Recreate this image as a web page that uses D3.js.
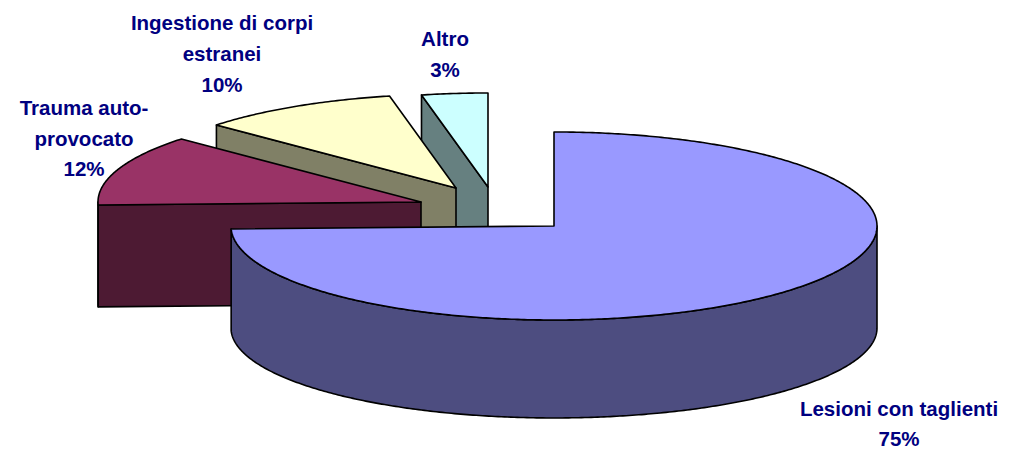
<!DOCTYPE html>
<html><head><meta charset="utf-8">
<script src="https://cdn.jsdelivr.net/npm/d3@7"></script>
<style>html,body{margin:0;padding:0;background:#fff}svg{display:block}</style>
</head><body><svg id="c" width="1012" height="450"></svg>
<script>
const categories = ["Lesioni con taglienti","Trauma auto-provocato","Ingestione di corpi estranei","Altro"];
const values = [74.5,12.2,10,3.3];
const topColors = ["#9999ff","#993366","#ffffcc","#ccffff"];
const wallColors = ["#4d4d80","#4d1a33","#808066","#668080"];
const labelLines = [["Lesioni con taglienti"],["Trauma auto-","provocato"],["Ingestione di corpi","estranei"],["Altro"]];

const W=1012,H=450;
const cx=554,cy=226,rx=323,ry=94,depth=102,floorRatio=0.957;
const explode=[[0,0],[-133,-24],[-98,-38],[-66,-39]];
const labelPos=[[899,415.5],[84,115],[222,30],[445,46]];
const lineGap=[30,30.5,31,31];

const svg=d3.select("#c");
const fmt=d3.format(".0f");
const pie=d3.pie().value(d=>d).sort(null)(values);
const px=d3.scaleLinear().domain([-1,1]).range([cx-rx,cx+rx]);
const py=d3.scaleLinear().domain([-1,1]).range([cy-ry,cy+ry]);
const line=d3.line();

function pt(a,i,floor=false){
  const [ox,oy]=explode[i];
  const v=-Math.cos(a);
  if(floor) return [px(Math.sin(a))+ox, py(v*floorRatio)+oy+depth];
  return [px(Math.sin(a))+ox, py(v)+oy];
}
function arcPts(a0,a1,i,floor=false){
  const n=Math.max(2,Math.ceil((a1-a0)/0.01));
  return d3.range(n+1).map(k=>pt(a0+(a1-a0)*k/n,i,floor));
}
function draw(d,fill){
  d3.select("#c").append("path").attr("d",d).attr("fill",fill)
    .attr("stroke","#000").attr("stroke-width",1.6).attr("stroke-linejoin","round");
}
// back-to-front: Altro, Ingestione, Trauma, Lesioni
[3,2,1,0].forEach(i=>{
  const s=pie[i];
  const apex=[px(0)+explode[i][0],py(0)+explode[i][1]];
  if(i>0){
    const e=pt(s.startAngle,i), f=pt(s.startAngle,i,true);
    draw(line([e,apex,[apex[0],apex[1]+depth],f])+"Z",wallColors[i]);
  }
  const a0=Math.max(s.startAngle,Math.PI/2),a1=Math.min(s.endAngle,Math.PI*1.5);
  if(a1>a0){
    draw(line(arcPts(a0,a1,i).concat(arcPts(a0,a1,i,true).reverse()))+"Z",wallColors[i]);
  }
  draw(line([apex].concat(arcPts(s.startAngle,s.endAngle,i)))+"Z",topColors[i]);
});
categories.forEach((c,i)=>{
  const lines=labelLines[i].concat([fmt(values[i])+"%"]);
  const t=svg.append("text").attr("text-anchor","middle")
    .attr("font-family","'Liberation Sans',Arial,sans-serif").attr("font-weight","bold")
    .attr("font-size",20.5).attr("fill","#000080");
  lines.forEach((l,k)=>t.append("tspan").attr("x",labelPos[i][0]).attr("y",labelPos[i][1]+k*lineGap[i]).text(l));
});
</script></body></html>
